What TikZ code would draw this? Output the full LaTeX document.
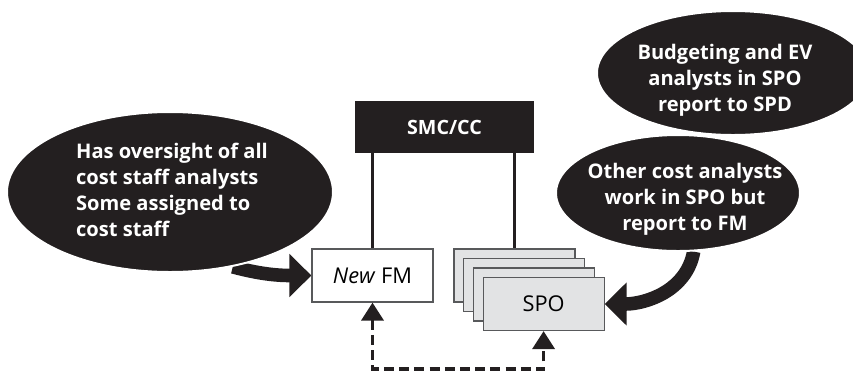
\documentclass[tikz,border=0pt]{standalone}
\usepackage{fontspec}
\setmainfont{Open Sans}
\usetikzlibrary{shapes.geometric,arrows.meta,backgrounds}
\definecolor{inkblack}{HTML}{231F20}
\definecolor{boxgray}{HTML}{E2E3E4}
\definecolor{edgegray}{HTML}{58595B}

\begin{document}
\begin{tikzpicture}[x=0.25mm,y=-0.25mm,
  bubble/.style={ellipse,fill=inkblack,draw=white,line width=0.5mm,inner sep=0pt},
  bubbletext/.style={text=white,inner sep=0pt,font=\bfseries\fontsize{14.3}{18.5}\selectfont},
  orgbox/.style={rectangle,draw=edgegray,line width=0.3mm,minimum width=30.25mm,minimum height=13.25mm,inner sep=0pt,font=\fontsize{15.5}{17}\selectfont},
  spobox/.style={orgbox,fill=boxgray},
  orgline/.style={draw=inkblack,line width=0.9mm},
  bigarrow/.style={draw=inkblack,line width=3.4mm,-{Triangle[length=5.5mm,width=10.5mm]}},
  dashlink/.style={draw=inkblack,line width=0.9mm,dash pattern=on 2.5mm off 1.3mm,{Triangle[length=4.5mm,width=5.5mm]}-{Triangle[length=4.5mm,width=5.5mm]}}]
  \useasboundingbox (0,0) rectangle (853,373);

  % speech bubbles
  \node[bubble,minimum width=81.5mm,minimum height=40mm] (lell) at (170,192) {};
  \node[bubbletext,align=left] (ltext) at (172,190) {Has oversight of all\\cost staff analysts\\Some assigned to\\cost staff};
  \node[bubble,minimum width=68mm,minimum height=31mm] (bud) at (733,73) {};
  \node[bubbletext,align=center] (budtext) at (725,80) {Budgeting and EV\\analysts in SPO\\report to SPD};
  \node[bubble,minimum width=61mm,minimum height=29mm] (oth) at (678,193) {};
  \node[bubbletext,align=center] (othtext) at (685,199) {Other cost analysts\\work in SPO but\\report to FM};

  % org chart
  \node[fill=inkblack,text=white,inner sep=0pt,minimum width=44.75mm,minimum height=13mm,font=\bfseries\fontsize{14}{16}\selectfont] (smc) at (444.5,127) {SMC/CC};
  \node[orgbox,fill=white] (fm) at (372.5,275.5) {\textit{New} FM};
  \foreach \i in {1,2,3}
    \node[spobox] (spo\i) at ({514.5+9.7*(\i-1)},{275.5+9.5*(\i-1)}) {};
  \node[spobox] (spo) at (543.6,304) {SPO};

  \draw[orgline] (smc.south -| fm.north) -- (fm.north);
  \draw[orgline] (smc.south -| spo1.north) -- (spo1.north);

  \coordinate (dashbase) at (0,369);
  \draw[dashlink] (fm.south) -- (fm.south |- dashbase) -- (spo.south |- dashbase) -- (spo.south);

  \begin{scope}[on background layer]
    \draw[bigarrow] (lell.-50) to[out=-15,in=180] (fm.west);
    \draw[bigarrow] (oth.-75) to[out=-100,in=0] (spo.east);
  \end{scope}
\end{tikzpicture}
\end{document}
